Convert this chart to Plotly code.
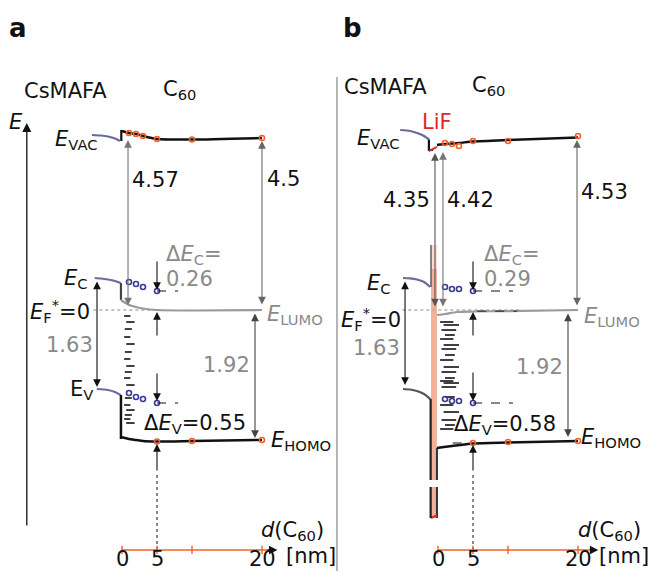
import plotly.graph_objects as go

# ---------------- data (x: d(C60) in nm, y: energy relative to E_F* in eV; vacuum level on broken scale) ----
dots_d = [1, 2, 3, 5, 10, 20]          # C60 thicknesses measured
sub_d = [1, 2, 3, 5]                    # CsMAFA sub-band points
hom_d = [5, 10, 20]

# panel a
a_pvk_vac_d = [-4.3, -3, -2, -1, -0.3]
a_pvk_vac_E = [2.547, 2.540, 2.525, 2.496, 2.460]
a_dip_E = [2.620, 2.460]
a_c60_vac_d = [0, 1, 2, 3, 5, 10, 20]
a_c60_vac_E = [2.606, 2.576, 2.562, 2.533, 2.489, 2.482, 2.504]
a_pvk_ec_d = [-3.9, -3, -2, -1, -0.2]
a_pvk_ec_E = [0.466, 0.459, 0.444, 0.422, 0.393]
a_lumo_d = [-0.15, 0.5, 1, 2, 3, 5, 10, 20]
a_lumo_E = [0.146, 0.102, 0.073, 0.044, 0.022, 0.0, -0.007, 0.0]
a_pvk_ev_d = [-3.6, -2, -1, -0.2]
a_pvk_ev_E = [-1.150, -1.164, -1.194, -1.237]
a_homo_d = [-0.15, 1, 2, 3, 5, 10, 20]
a_homo_E = [-1.849, -1.878, -1.892, -1.907, -1.914, -1.907, -1.892]
a_homo_dots_E = [-1.914, -1.907, -1.892]
a_ec_dots_E = [0.408, 0.378, 0.335, 0.277]
a_ev_dots_E = [-1.208, -1.266, -1.296, -1.354]
a_gap_E = [-0.087, -0.175, -0.277, -0.393, -0.495, -0.611, -0.713, -0.815, -0.902,
           -0.990, -1.092, -1.281, -1.383, -1.456, -1.528, -1.587, -1.645]
a_labels = {"vac0": "4.57", "vac20": "4.5", "dEc": "0.26", "gap": "1.63", "hl": "1.92", "dEv": "0.55"}

# panel b
b_pvk_vac_d = [-5.4, -4, -3, -2, -1.2]
b_pvk_vac_E = [2.620, 2.606, 2.576, 2.533, 2.475]
b_lif_vac_d = [-1.3, -0.15]
b_lif_vac_E = [2.314, 2.373]
b_c60_vac_d = [-0.15, 1, 3, 5, 10, 20]
b_c60_vac_E = [2.402, 2.416, 2.431, 2.453, 2.475, 2.511]
b_vac_dots_E = [2.431, 2.416, 2.387, 2.460, 2.460, 2.533]
b_pvk_ec_d = [-5, -4, -3, -2, -1.1]
b_pvk_ec_E = [0.466, 0.461, 0.444, 0.408, 0.335]
b_lumo_d = [-0.15, 1, 2.7, 5, 10, 20]
b_lumo_E = [-0.073, -0.058, -0.029, -0.022, -0.015, 0.0]
b_pvk_ev_d = [-5, -4, -3, -2, -1.1]
b_pvk_ev_E = [-1.150, -1.157, -1.179, -1.223, -1.296]
b_homo_d = [-0.15, 5, 10, 20]
b_homo_E = [-2.009, -1.943, -1.929, -1.907]
b_homo_dots_E = [-1.936, -1.921, -1.907]
b_ec_dots_E = [0.335, 0.306, 0.306, 0.277]
b_ev_dots_E = [-1.296, -1.325, -1.325, -1.354]
b_gap_E = [-0.175, -0.218, -0.291, -0.364, -0.422, -0.509, -0.568, -0.655, -0.728, -0.830,
           -0.902, -0.990, -1.034, -1.063, -1.121, -1.266, -1.383, -1.485, -1.601, -1.674, -1.732]
b_lif_E = [0.946, -3.028]          # LiF interlayer extent (schematic)
b_labels = {"vac_pvk": "4.35", "vac0": "4.42", "vac20": "4.53", "dEc": "0.29", "gap": "1.63",
            "hl": "1.92", "dEv": "0.58"}

tick_vals = [0, 5, 10, 20]
tick_text = ["0", "5", "", "20"]

# ---------------- styles ----------------
FONT = "DejaVu Sans"
FS = 21
BLACK = "#111111"
GRAY = "#8a8a8a"
ORANGE = "#f0602a"
BLUE = "#3a3a96"
PVK = "#6a6a9c"
LIF = "#f3b19c"
RED = "#e0262b"

fig = go.Figure()


def line(xr, d, E, color=BLACK, width=2.5, dash=None):
    fig.add_trace(go.Scatter(x=d, y=E, xaxis=xr, yaxis="y", mode="lines",
                             line=dict(color=color, width=width, dash=dash, shape="spline", smoothing=0.6),
                             hoverinfo="skip", showlegend=False))


def seg(xr, d, E, color=BLACK, width=1.2, dash=None):
    fig.add_trace(go.Scatter(x=d, y=E, xaxis=xr, yaxis="y", mode="lines",
                             line=dict(color=color, width=width, dash=dash),
                             hoverinfo="skip", showlegend=False))


def dots(xr, d, E, color):
    fig.add_trace(go.Scatter(x=d, y=E, xaxis=xr, yaxis="y", mode="markers",
                             marker=dict(symbol="circle-open", size=5, color=color, line=dict(width=1.6)),
                             hoverinfo="skip", showlegend=False))


def arrow(xr, d0, E0, d1, E1, both=False, color=BLACK, width=1.1):
    fig.add_annotation(xref=xr, yref="y", axref=xr, ayref="y", x=d1, y=E1, ax=d0, ay=E0,
                       text="", showarrow=True, arrowhead=2, arrowsize=1.4, arrowwidth=width,
                       arrowcolor=color, arrowside="end+start" if both else "end",
                       startarrowhead=2, startarrowsize=1.4, standoff=0, startstandoff=0)


def text(xr, d, E, s, anchor="left", color=BLACK, size=FS):
    fig.add_annotation(xref=xr, yref="y", x=d, y=E, text=s, showarrow=False, xanchor=anchor,
                       yanchor="middle", font=dict(family=FONT, size=size, color=color))


def gaps(xr, Es, pattern):
    xs, ys = [], []
    for i, e in enumerate(Es):
        a, b = pattern[i % len(pattern)]
        xs += [a, b, None]
        ys += [e, e, None]
    seg(xr, xs, ys, "#000000", 1.5)


def xaxis_line(xr, dmax, dhead, Ey):
    seg(xr, [tick_vals[0], dmax], [Ey, Ey], ORANGE, 1.6)
    for t, lab in zip(tick_vals, tick_text):
        seg(xr, [t, t], [Ey - 0.06, Ey + 0.06], ORANGE, 1.4)
        if lab:
            text(xr, t, Ey - 0.135, lab, anchor="center")
    arrow(xr, dmax - 0.5, Ey, dhead, Ey, color=BLACK, width=1.2)


EAX = -3.493

# ================= panel a =================
xa = "x"
line(xa, a_pvk_vac_d, a_pvk_vac_E, PVK, 2.2)
seg(xa, [-0.1, -0.1], a_dip_E, BLACK, 2.2)
line(xa, a_c60_vac_d, a_c60_vac_E, BLACK, 2.5)
dots(xa, dots_d, a_c60_vac_E[1:], ORANGE)

line(xa, a_pvk_ec_d, a_pvk_ec_E, PVK, 2.2)
seg(xa, [-0.15, -0.15], [a_pvk_ec_E[-1], a_lumo_E[0]], "#444", 2.2)
seg(xa, [-4.1, 5], [0, 0], "#b0b0b0", 1.5, "dot")
line(xa, a_lumo_d, a_lumo_E, "#9a9a9a", 2.2)
line(xa, a_pvk_ev_d, a_pvk_ev_E, PVK, 2.2)
seg(xa, [-0.15, -0.15], [a_pvk_ev_E[-1], -1.878], BLACK, 2.5)
line(xa, a_homo_d, a_homo_E, BLACK, 2.5)
dots(xa, hom_d, a_homo_dots_E, ORANGE)
gaps(xa, a_gap_E, [(0.3, 1.2), (0.6, 1.8), (0.4, 1.4)])
dots(xa, sub_d, a_ec_dots_E, BLUE)
dots(xa, sub_d, a_ev_dots_E, BLUE)
seg(xa, [5, 8], [a_ec_dots_E[-1]] * 2, BLACK, 1.1, "dash")
seg(xa, [5, 8], [a_ev_dots_E[-1]] * 2, BLACK, 1.1, "dash")

arrow(xa, -13.6, -3.159, -13.6, 2.722, width=1.3)
arrow(xa, 0.86, 0.044, 0.86, 2.475, both=True, color="#777")
arrow(xa, 20, 0.058, 20, 2.46, both=True, color="#666")
arrow(xa, -3.57, 0.437, -3.57, -1.121, both=True)
arrow(xa, 19, -0.029, 19, -1.863, both=True, color="#444")
arrow(xa, 5, 0.728, 5, 0.291)
arrow(xa, 5, -0.393, 5, -0.029)
arrow(xa, 5, -0.902, 5, -1.325)
arrow(xa, 5, -2.358, 5, -1.95)
seg(xa, [5, 5], [EAX, -2.358], BLACK, 1.0, "dot")
xaxis_line(xa, 21.1, 22.2, EAX)

text(xa, -14.3, 3.188, "CsMAFA")
text(xa, 5.57, 3.20, "C<sub>60</sub>")
text(xa, -15.14, 2.737, "<i>E</i>", anchor="center")
text(xa, -9.8, 2.47, "<i>E</i><sub>VAC</sub>")
text(xa, 1.2, 1.892, a_labels["vac0"])
text(xa, 20.43, 1.907, a_labels["vac20"])
text(xa, 6.0, 0.80, "Δ<i>E</i><sub>C</sub>=", color=GRAY)
text(xa, 6.0, 0.451, a_labels["dEc"], color=GRAY)
text(xa, -4.57, 0.45, "<i>E</i><sub>C</sub>", anchor="right")
text(xa, -4.29, -0.02, "<i>E</i><sub>F</sub><sup>*</sup>=0", anchor="right")
text(xa, 20.43, -0.07, "<i>E</i><sub>LUMO</sub>", color=GRAY)
text(xa, -3.86, -0.510, a_labels["gap"], anchor="right", color=GRAY)
text(xa, 18.57, -0.800, a_labels["hl"], anchor="right", color=GRAY)
text(xa, -3.86, -1.16, "E<sub>V</sub>", anchor="right")
text(xa, 2.9, -1.66, "Δ<i>E</i><sub>V</sub>=" + a_labels["dEv"])
text(xa, 21.0, -1.90, "<i>E</i><sub>HOMO</sub>")
text(xa, 19.6, -3.21, "<i>d</i>(C<sub>60</sub>)")
text(xa, 23.1, -3.58, "[nm]")

# ================= panel b =================
xb = "x2"
seg(xb, [-14.43, -14.43], [3.392, -3.9], "#a0a0a0", 1.5)
fig.add_shape(type="rect", xref=xb, yref="y", x0=-1, x1=-0.15, y0=b_lif_E[1], y1=0.6,
              fillcolor=LIF, line=dict(width=0), layer="below")
fig.add_shape(type="rect", xref=xb, yref="y", x0=-1, x1=-0.15, y0=0.6, y1=b_lif_E[0],
              fillcolor=LIF, opacity=0.45, line=dict(width=0), layer="below")
fig.add_shape(type="rect", xref=xb, yref="y", x0=-1.3, x1=0.1, y0=-2.576, y1=-2.475,
              fillcolor="white", line=dict(width=0), layer="above")
seg(xb, [-1, -1], [b_lif_E[0], b_pvk_ec_E[-1]], "#555", 1.4)
seg(xb, [-0.15, -0.15], [b_homo_E[0], b_lif_E[1]], "#333", 2.0)
seg(xb, [-1, -0.15], [b_lif_E[1], b_lif_E[1] + 0.04], RED, 2.0)

line(xb, b_pvk_vac_d, b_pvk_vac_E, PVK, 2.2)
seg(xb, [-1.3, -1.3, -0.7], [2.475, 2.329, 2.329], BLACK, 2.2)
seg(xb, b_lif_vac_d, b_lif_vac_E, RED, 2.0)
line(xb, b_c60_vac_d, b_c60_vac_E, BLACK, 2.5)
dots(xb, dots_d, b_vac_dots_E, ORANGE)

line(xb, b_pvk_ec_d, b_pvk_ec_E, PVK, 2.2)
seg(xb, [-5.1, 11.7], [0, 0], "#b0b0b0", 1.5, "dot")
line(xb, b_lumo_d, b_lumo_E, "#9a9a9a", 2.2)
seg(xb, [5.6, 11.3], [-0.015, -0.015], "#333", 1.2, "dash")
line(xb, b_pvk_ev_d, b_pvk_ev_E, "#555", 2.2)
seg(xb, [-1.05, -1.05], [b_pvk_ev_E[-1], b_lif_E[1]], "#222", 2.2)
line(xb, b_homo_d, b_homo_E, BLACK, 2.5)
seg(xb, [2.1, 4.6], [-1.936, -1.936], BLACK, 1.1, "dash")
dots(xb, hom_d, b_homo_dots_E, ORANGE)
gaps(xb, b_gap_E, [(0.3, 2.2), (0.8, 3.0), (0.5, 2.6), (1.0, 2.4)])
dots(xb, sub_d, b_ec_dots_E, BLUE)
dots(xb, sub_d, b_ev_dots_E, BLUE)
seg(xb, [5, 10.7], [b_ec_dots_E[-1]] * 2, BLACK, 1.1, "dash")
seg(xb, [5, 10.7], [b_ev_dots_E[-1]] * 2, BLACK, 1.1, "dash")

arrow(xb, -0.43, 0.029, -0.43, 2.285, both=True, color="#555")
arrow(xb, 0.71, 0.029, 0.71, 2.300, both=True, color="#777")
arrow(xb, 19.86, 0.044, 19.86, 2.475, both=True, color="#666")
arrow(xb, -4.71, 0.437, -4.71, -1.092, both=True)
arrow(xb, 18.57, -0.029, 18.57, -1.849, both=True, color="#444")
arrow(xb, 5, 0.728, 5, 0.291)
arrow(xb, 5, -0.393, 5, -0.029)
arrow(xb, 5, -0.888, 5, -1.325)
arrow(xb, 5, -2.358, 5, -1.965)
seg(xb, [5, 5], [EAX, -2.358], BLACK, 1.0, "dot")
xaxis_line(xb, 22.0, 22.9, EAX)

text(xb, -13.7, 3.246, "CsMAFA")
text(xb, 4.57, 3.26, "C<sub>60</sub>")
text(xb, -2.57, 2.737, "LiF", color=RED)
text(xb, -11.8, 2.49, "<i>E</i><sub>VAC</sub>")
text(xb, -8.1, 1.601, b_labels["vac_pvk"])
text(xb, 1.0, 1.601, b_labels["vac0"])
text(xb, 20.2, 1.718, b_labels["vac20"])
text(xb, 6.3, 0.80, "Δ<i>E</i><sub>C</sub>=", color=GRAY)
text(xb, 6.3, 0.451, b_labels["dEc"], color=GRAY)
text(xb, -6.43, 0.38, "<i>E</i><sub>C</sub>", anchor="right")
text(xb, -14.1, -0.13, "<i>E</i><sub>F</sub><sup>*</sup>=0")
text(xb, 20.6, -0.10, "<i>E</i><sub>LUMO</sub>", color=GRAY)
text(xb, -5.14, -0.553, b_labels["gap"], anchor="right", color=GRAY)
text(xb, 18.14, -0.830, b_labels["hl"], anchor="right", color=GRAY)
text(xb, 2.0, -1.67, "Δ<i>E</i><sub>V</sub>=" + b_labels["dEv"])
text(xb, 20.2, -1.86, "<i>E</i><sub>HOMO</sub>")
text(xb, 19.7, -3.21, "<i>d</i>(C<sub>60</sub>)")
text(xb, 22.7, -3.58, "[nm]")

# panel letters
fig.add_annotation(xref="paper", yref="paper", x=18 / 651, y=1 - 28 / 571, text="<b>a</b>", showarrow=False,
                   xanchor="center", yanchor="middle", font=dict(family=FONT, size=26, color=BLACK))
fig.add_annotation(xref="paper", yref="paper", x=352 / 651, y=1 - 28 / 571, text="<b>b</b>", showarrow=False,
                   xanchor="center", yanchor="middle", font=dict(family=FONT, size=26, color=BLACK))

fig.update_layout(
    width=651, height=571, margin=dict(l=0, r=0, t=0, b=0),
    paper_bgcolor="white", plot_bgcolor="white", showlegend=False,
    font=dict(family=FONT, size=FS, color=BLACK),
    xaxis=dict(domain=[0, 0.5], range=[-122 / 7, (325.5 - 122) / 7], visible=False, fixedrange=True),
    xaxis2=dict(domain=[0.5, 1], range=[(325.5 - 438) / 7, (651 - 438) / 7], visible=False,
                anchor="y", fixedrange=True),
    yaxis=dict(range=[(310 - 571) / 68.7, 310 / 68.7], visible=False, fixedrange=True),
)

fig.write_html("out.html", config={"displayModeBar": False},
               post_script="document.body.style.margin='0';")
